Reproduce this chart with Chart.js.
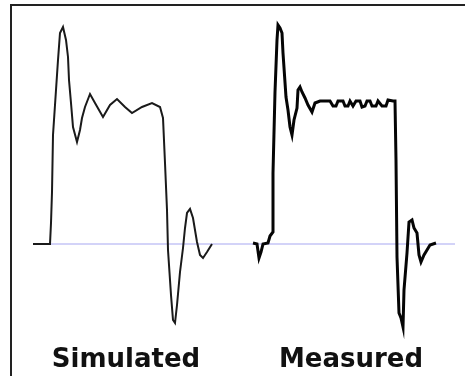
<!DOCTYPE html>
<html>
<head>
<meta charset="utf-8">
<script src="https://cdn.jsdelivr.net/npm/chart.js@4.4.1/dist/chart.umd.min.js"></script>
<style>
  html, body { margin: 0; padding: 0; background: #fff; }
  #wrap { position: relative; width: 465px; height: 376px; overflow: hidden; }
  #frame { position: absolute; left: 10px; top: 4px; width: 470px; height: 380px;
           border-top: 2px solid #222; border-left: 2px solid #222; }
  canvas { position: absolute; left: 0; top: 0; }
  .lbl { position: absolute; top: 343px; width: 200px; text-align: center;
         font-family: "DejaVu Sans", sans-serif; font-weight: bold; font-size: 26px;
         line-height: 30px; color: #111; }
</style>
</head>
<body>
<div id="wrap">
  <div id="frame"></div>
  <canvas id="c" width="465" height="376"></canvas>
  <div class="lbl" style="left:26px">Simulated</div>
  <div class="lbl" style="left:251px">Measured</div>
</div>
<script>
// time in ns, amplitude in mV
const simTime = [0, 8.5, 9, 9.5, 10, 11.5, 12.5, 13.5, 15, 16.5, 17.5, 18, 19, 20, 22, 23.5, 24.5, 26, 28.5, 31, 35, 38.5, 42, 46, 49.5, 54.5, 59.5, 63.5, 65, 66, 67, 67.5, 69, 70, 71, 72, 73.5, 75, 76, 77, 78.5, 80, 82, 83.5, 85, 87, 89.5];
const simValues = [0, 0, 147, 364, 763, 1078, 1288, 1477, 1519, 1428, 1309, 1148, 987, 819, 714, 798, 882, 959, 1050, 987, 889, 973, 1015, 959, 917, 959, 987, 959, 882, 567, 238, -42, -357, -532, -553, -427, -196, -28, 112, 217, 245, 182, 14, -77, -98, -56, 0];

const measTime = [110, 112, 113, 114, 115, 117.5, 118.5, 120, 120, 121, 122, 122.5, 123.5, 124.5, 125, 126.5, 127.5, 128.5, 129.5, 130.5, 132, 132.5, 133.5, 134.5, 136, 137.5, 139.5, 141, 143.5, 146, 148.5, 150, 151.5, 152.5, 155, 156, 157.5, 158.5, 160, 161.5, 163.5, 164.5, 166, 167, 168.5, 169.5, 171.5, 172.5, 174.5, 176.5, 177.5, 180, 181, 181.5, 182, 183, 184, 185, 185.5, 187, 188, 189.5, 190.5, 192, 193, 194, 195.5, 197, 198.5, 201.5];
const measValues = [7, 0, -98, -56, 0, 7, 56, 84, 497, 1064, 1428, 1533, 1512, 1477, 1337, 1029, 938, 819, 763, 868, 952, 1078, 1099, 1064, 1022, 973, 924, 987, 1001, 1001, 1001, 966, 966, 1001, 1001, 966, 966, 1001, 966, 1001, 1001, 959, 966, 1001, 1001, 966, 966, 1001, 966, 966, 1008, 1001, 1001, 588, -91, -483, -518, -581, -322, -63, 154, 168, 112, 77, -77, -126, -77, -42, -7, 7];

const baseTime = [0, 211];
const baseValues = [0, 0];

const labels = ["Simulated", "Measured"];

const toXY = (t, v) => t.map((x, i) => ({ x: x, y: v[i] }));

new Chart(document.getElementById('c'), {
  type: 'line',
  data: {
    datasets: [
      { label: 'baseline', data: toXY(baseTime, baseValues), borderColor: '#c4c4f6', borderWidth: 1.5, pointRadius: 0, order: 3 },
      { label: labels[0], data: toXY(simTime, simValues), borderColor: '#1a1a1a', borderWidth: 2, pointRadius: 0, tension: 0, order: 1 },
      { label: labels[1], data: toXY(measTime, measValues), borderColor: '#050505', borderWidth: 3, pointRadius: 0, tension: 0, order: 2 }
    ]
  },
  options: {
    responsive: false,
    devicePixelRatio: 1,
    animation: false,
    layout: { padding: 0 },
    plugins: { legend: { display: false }, tooltip: { enabled: false } },
    scales: {
      x: { type: 'linear', min: -16.5, max: 216, display: false },
      y: { type: 'linear', min: -924, max: 1708, display: false }
    }
  }
});
</script>
</body>
</html>
